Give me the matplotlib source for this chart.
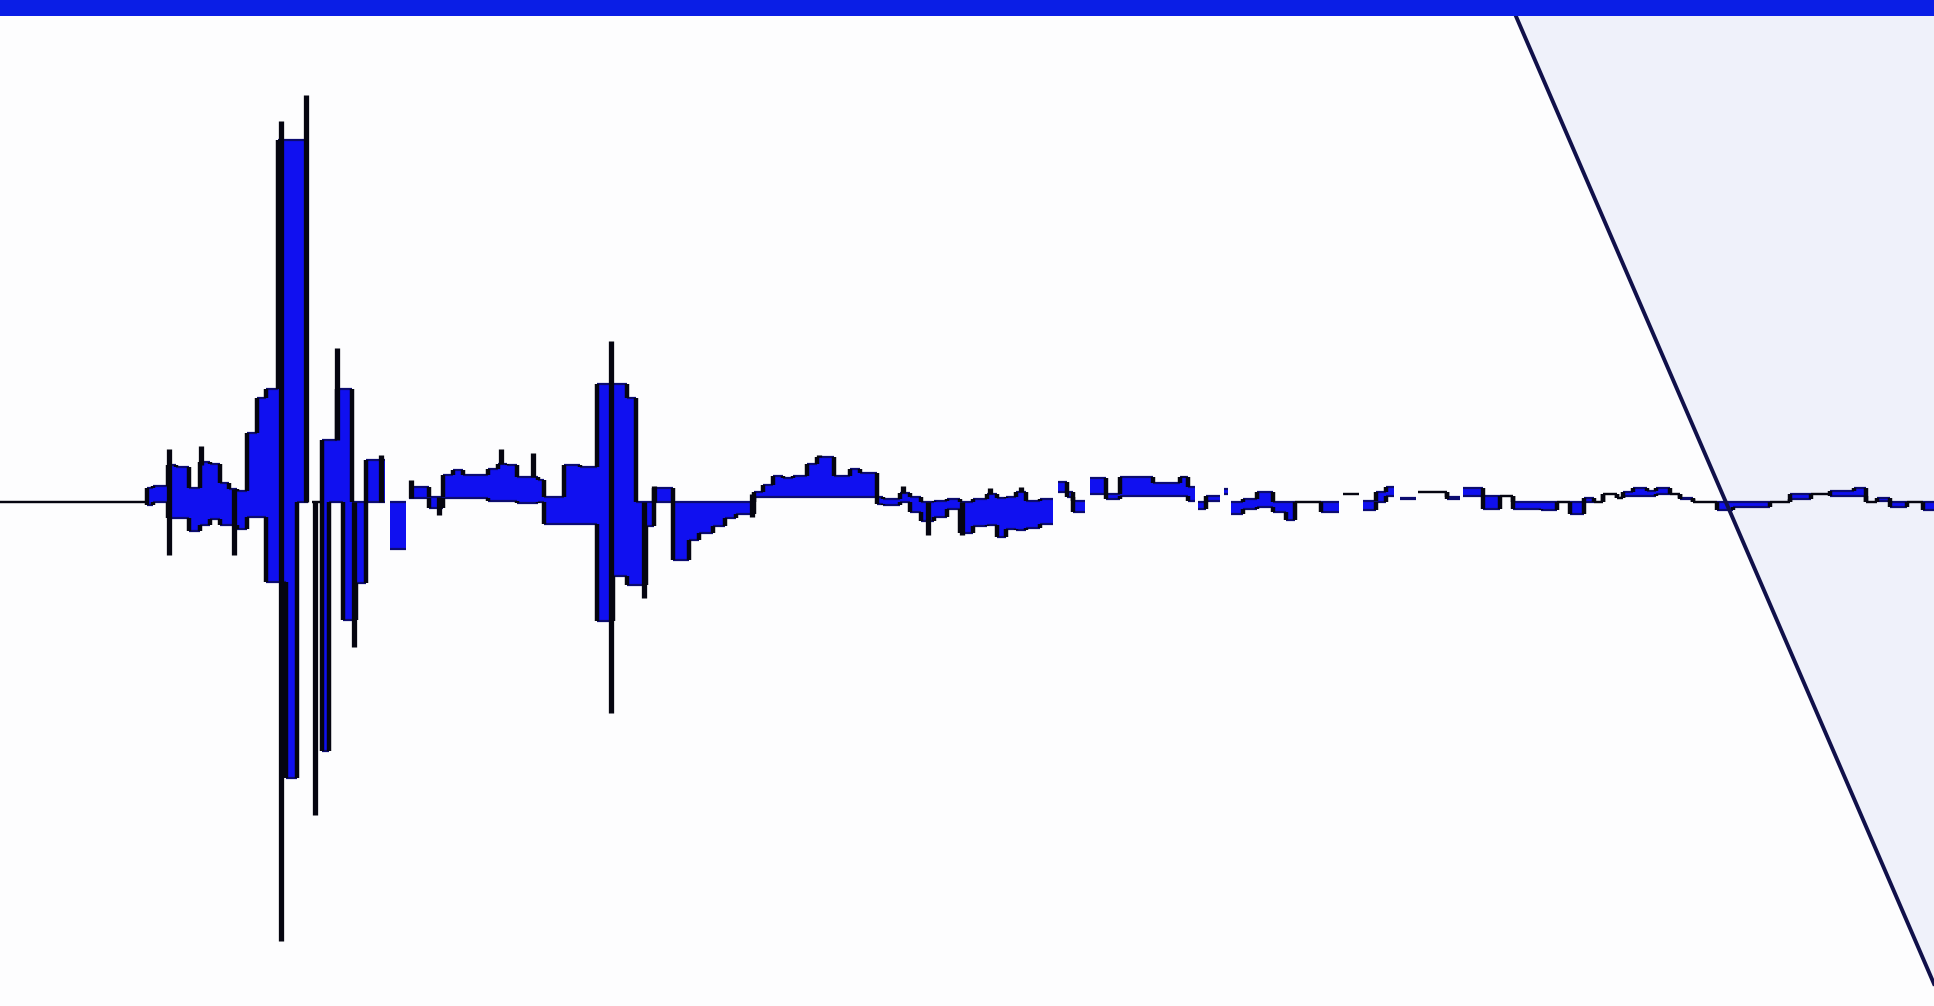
import numpy as np
import matplotlib
matplotlib.use("Agg")
import matplotlib.pyplot as plt

nan = np.nan

# segment edges (time) and the max / min envelope of each segment
edges = [0, 119, 124, 136, 143, 153, 162, 170, 178, 186, 192, 200, 208, 216, 225,
         232, 241, 250, 253, 261, 267, 273, 278, 285, 289, 297, 312, 316, 329, 332,
         348, 359, 367, 375, 396, 404, 411, 419, 430, 436, 441, 457, 470, 484, 497,
         508, 516, 524, 530, 546, 559, 567, 578, 588, 597, 611, 619, 627, 635, 643,
         654, 662, 676, 689, 697, 711, 716, 730, 738, 747, 757, 768, 778, 789, 800,
         808, 816, 824, 832, 843, 854, 858, 865, 870, 880, 884, 897, 908, 935, 957,
         963, 969, 971, 978, 989, 992, 996, 998, 1008, 1019, 1032, 1043, 1050, 1071,
         1086, 1089, 1102, 1105, 1116, 1124, 1130, 1135, 1148, 1150, 1173, 1184, 1186,
         1202, 1216, 1227, 1249, 1262, 1273, 1284, 1292, 1300, 1311, 1316, 1324, 1335,
         1343, 1354, 1362, 1373, 1392, 1405, 1435, 1451, 1468, 1484, 1503, 1513, 1522,
         1532, 1546, 1559, 1568]

hi = [0, 11, 13, 30, 28, 11, 32, 31, 15, 10, 9, 56, 84, 92, 294,
      294, 294, nan, 0, 50, 50, 92, 92, 0, 0, 34, nan, 0, nan, 12,
      4, 22, 26, 22, 27, 31, 30, 20, 20, 18, 4, 30, 28, 96, 96,
      84, 0, 0, 11, 0, 0, 0, 0, 0, 0, 8, 14, 21, 19, 21,
      31, 36, 21, 27, 23, 4, 2, 7, 4, 0, 1, 2, 0, 2, 6,
      3, 4, 8, 1, 2, nan, 16, 8, 1, nan, 19, 6, 20, 15, 20,
      12, nan, 0, 5, nan, 10, nan, 0, 2, 8, 0, 0, 0, 0,
      nan, 6.5, nan, 1, 8, 12, nan, 3, nan, 8, 4, nan,
      11, 5, 5, 0, 0, 0, 0, 3, 0, 6, 3, 8, 11,
      9, 11, 6.5, 3, 0, 0, 0, 0, 6, 6, 9, 11, 0,
      3, 0, 0, 0]

lo = [0, -3, 0, -13, -13, -24, -19, -14, -19, -19, -22, -12, -12, -65, -65,
      -225, 0, nan, 0, -203, 0, 0, -96, -96, -66, 0, nan, -38, nan, 3,
      -5, 3, 3, 3, 1, 1, 1, -1, -1, 0, -18, -18, -18, -97, -60,
      -68, -68, -20, 0, -47, -31, -25, -20, -13, -10, 4, 4, 4, 4, 4,
      4, 4, 4, 4, 4, -2, -3, 0, -8, -16, -12, -6, -25, -20, -19,
      -29, -22, -23, -21, -18, nan, 8, 4, -8, nan, 6, 2, 5, 5, 5,
      1, nan, -6, 1, nan, 6, nan, -10, -6, -4, -8, -15, 0, -8,
      nan, 6.5, nan, -7, 0, 5, nan, 2, nan, 8, 2, nan,
      5, -6, 5, -6, -7, 0, -10, 0, 0, 6, 3, 5, 5,
      5, 6, 6.5, 2, 0, -7, -4, 0, 2, 6, 5, 5, 0,
      1, -4, 0, -7]

# black peak strokes (time, top, bottom)
peak_t = [137, 163, 190, 228, 248, 255, 273, 287, 309, 333, 356, 406, 432, 495, 522,
          530, 610, 664, 732, 752, 780, 803, 828, 959]
peak_top = [43, 45, 10, 310, 331, 0, 125, 0, 38, 18, 4, 43, 39.5, 131, 0,
            13, 6, 38, 13, 0, 0, 11, 12, 21]
peak_bot = [-43, 30, -43, -357, 0, -255, 50, -118, 0, 3, -11, 31, 20, -172, -78,
            0, -12, 36, 7, -27, -27, 6, 8, 20]

# window decorations
wedge_x = [1229, 1568, 1568]
wedge_y = [395, 395, -392]

t = np.array(edges, dtype=float)
h = np.array(hi, dtype=float)
l = np.array(lo, dtype=float)

fig = plt.figure(figsize=(19.34, 10.06), dpi=100, facecolor="#fdfdfe")
ax = fig.add_axes([0, 0, 1, 1])
ax.set_facecolor("#fdfdfe")

# light panel behind the diagonal
ax.fill(wedge_x, wedge_y, color="#eff1fa", zorder=0, lw=0)

# envelope: one bar per segment from min to max
ax.bar(t[:-1], h - l, bottom=l, width=np.diff(t), align="edge",
       color="#1010f0", lw=0, zorder=2)
# flat segments (min == max) are drawn as plain black dashes
flat = np.isclose(h, l)
edge_cols = np.where(flat, "#050510", "#0c0c70")
ax.hlines(h, t[:-1], t[1:], colors=edge_cols, lw=1.6, zorder=3)
ax.hlines(l, t[:-1], t[1:], colors=edge_cols, lw=1.6, zorder=3)

# vertical jumps in black
ax.vlines(t[1:-1], h[:-1], h[1:], color="#050510", lw=3.2, zorder=4)
ax.vlines(t[1:-1], l[:-1], l[1:], color="#050510", lw=3.2, zorder=4)
ax.vlines(peak_t, peak_bot, peak_top, color="#050510", lw=3.8, zorder=5)

# diagonal rule and top bar
ax.plot([wedge_x[0], wedge_x[2]], [wedge_y[0], wedge_y[2]], color="#10104a", lw=2.8, zorder=6)
ax.axhspan(395, 412, color="#0a1ee6", lw=0, zorder=7)

ax.set_xlim(0, 1568)
ax.set_ylim(-410, 408)
ax.axis("off")

fig.savefig("out.png", dpi=100, facecolor=fig.get_facecolor())
